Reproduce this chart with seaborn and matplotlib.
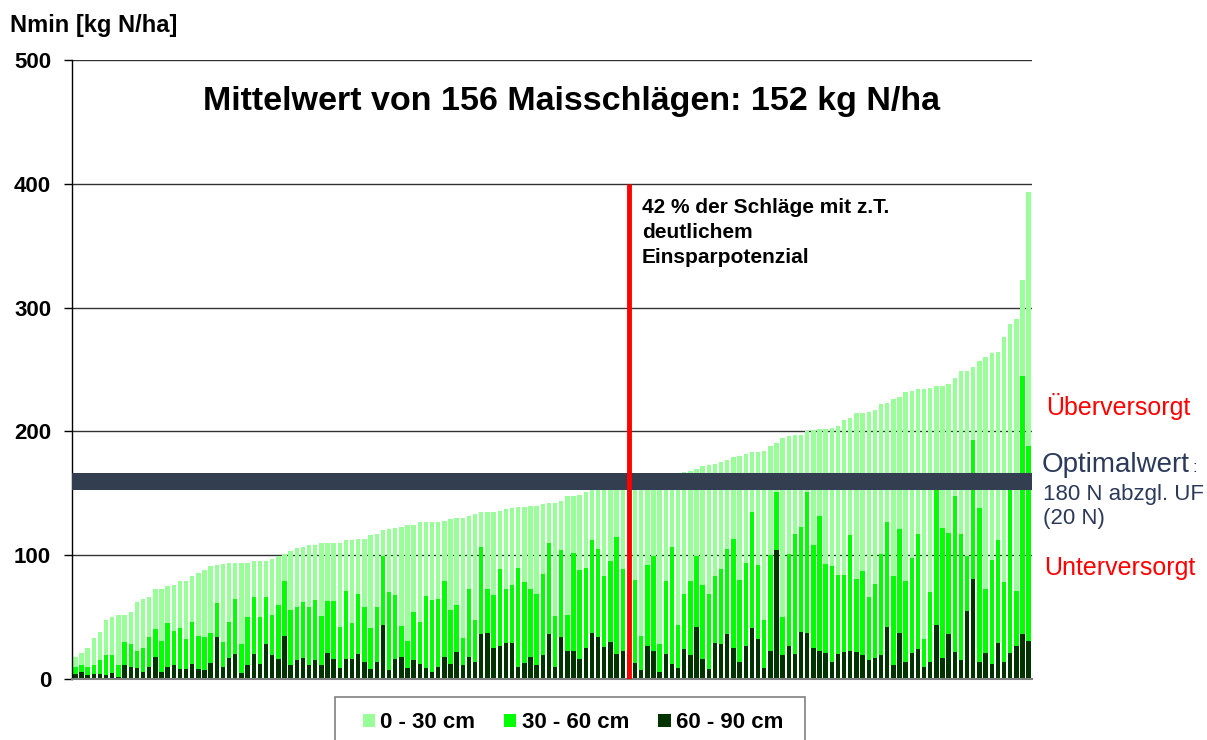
import numpy as np
import matplotlib
matplotlib.use('Agg')
import matplotlib.pyplot as plt
import seaborn as sns
from matplotlib.patches import Patch, Rectangle

# Nmin je Maisschlag (kg N/ha), aufsteigend sortiert
# Hoehe der Saeulen: 0-90 cm gesamt, 30-90 cm, 60-90 cm
nmin_0_90 = [18, 21, 25, 33, 38, 48, 50, 52, 52, 54, 62, 65, 66, 73, 73, 75, 76, 79, 79, 83, 86, 88, 91, 92, 93, 94,
             94, 94, 94, 95, 95, 95, 97, 99, 101, 103, 106, 107, 108, 108, 110, 110, 110, 110, 112, 112, 113, 113, 116, 117, 120, 121,
             122, 123, 124, 124, 127, 127, 127, 127, 128, 129, 130, 130, 132, 133, 135, 135, 135, 136, 137, 138, 139, 139, 140, 140, 141, 142,
             142, 144, 148, 148, 149, 151, 153, 154, 155, 156, 157, 158, 159, 160, 161, 162, 163, 164, 165, 166, 166, 167, 168, 170, 172, 173,
             174, 175, 177, 179, 180, 182, 183, 183, 184, 188, 191, 195, 196, 197, 197, 200, 201, 202, 202, 203, 204, 209, 211, 215, 215, 216,
             217, 222, 223, 226, 228, 232, 233, 234, 234, 235, 237, 237, 238, 243, 249, 249, 252, 257, 260, 263, 264, 276, 287, 291, 322, 393]
nmin_30_90 = [10, 11, 10, 11, 15, 19, 19, 11, 30, 28, 23, 25, 34, 40, 31, 45, 39, 41, 32, 46, 35, 34, 37, 61, 30, 46,
              65, 28, 50, 66, 50, 66, 52, 60, 79, 56, 58, 62, 58, 64, 51, 63, 63, 42, 71, 45, 69, 58, 41, 58, 99, 70,
              68, 43, 31, 54, 46, 67, 64, 65, 79, 56, 60, 33, 73, 48, 107, 73, 68, 89, 73, 76, 90, 78, 73, 69, 85, 110,
              51, 104, 52, 102, 88, 90, 112, 105, 83, 95, 115, 89, 80, 80, 35, 92, 99, 28, 79, 107, 44, 69, 79, 99, 76, 69,
              83, 89, 105, 113, 80, 94, 135, 92, 48, 100, 151, 50, 101, 117, 123, 151, 108, 132, 93, 91, 84, 84, 116, 81, 87, 66,
              77, 101, 127, 83, 121, 79, 98, 117, 32, 70, 155, 122, 118, 148, 117, 99, 193, 138, 73, 96, 112, 78, 155, 71, 245, 188]
nmin_60_90 = [4, 6, 3, 4, 4, 3, 5, 2, 11, 10, 9, 6, 10, 18, 6, 10, 11, 8, 8, 12, 8, 7, 13, 34, 10, 17,
              20, 5, 11, 20, 12, 28, 19, 16, 35, 11, 15, 17, 11, 15, 11, 21, 16, 9, 16, 16, 20, 14, 8, 14, 44, 7,
              16, 18, 9, 15, 12, 9, 6, 10, 18, 12, 22, 11, 18, 14, 36, 37, 25, 27, 29, 29, 10, 13, 18, 11, 19, 36,
              10, 34, 23, 23, 16, 25, 37, 34, 26, 30, 20, 23, 20, 13, 7, 27, 23, 6, 20, 12, 9, 24, 19, 42, 16, 8,
              29, 28, 36, 25, 14, 27, 41, 32, 9, 23, 104, 19, 27, 20, 38, 37, 25, 23, 21, 14, 20, 22, 23, 22, 19, 15,
              17, 19, 42, 11, 37, 14, 21, 24, 10, 14, 44, 17, 36, 22, 15, 55, 81, 14, 21, 12, 29, 14, 21, 27, 36, 31]

schichten = ['0 - 30 cm', '30 - 60 cm', '60 - 90 cm']
farben = ['#99FF99', '#00FF00', '#003300']
y_ticks = [0, 100, 200, 300, 400, 500]
optimal_band = (152.5, 166.5)   # Optimalwert 180 N abzgl. 20 N
trenn_idx = 90                  # Grenze: 42 % der Schlaege rechts davon
trenn_hoehe = 400

sns.set_theme(style='white')
plt.rcParams['font.family'] = ['Liberation Sans', 'DejaVu Sans']
plt.rcParams.update({'text.color': 'black', 'axes.labelcolor': 'black',
                     'xtick.color': 'black', 'ytick.color': 'black'})

W, H = 1207, 740
fig = plt.figure(figsize=(W / 100, H / 100), dpi=100)
ax = fig.add_axes([72 / W, 1 - 679 / H, (1032 - 72) / W, (679 - 60) / H])

idx = np.arange(len(nmin_0_90))
for werte, farbe in zip([nmin_0_90, nmin_30_90, nmin_60_90], farben):
    sns.barplot(x=idx, y=werte, color=farbe, saturation=1, width=0.72,
                errorbar=None, linewidth=0, ax=ax, zorder=2)

# Optimalwert-Balken und Trennlinie
ax.axhspan(*optimal_band, color='#333F50', linewidth=0, zorder=3)
ax.vlines(trenn_idx, 0, trenn_hoehe, color='#FF0000', linewidth=3.5, zorder=4)

ax.set_ylim(0, 500)
ax.set_xlim(-0.55, len(idx) - 0.45)
ax.set_xticks([])
ax.set_xlabel('')
ax.set_ylabel('')
ax.set_yticks(y_ticks)
ax.set_yticklabels([str(t) for t in y_ticks], fontsize=16, fontweight='bold', color='black')
ax.tick_params(axis='y', direction='out', length=6, width=1, color='black', pad=9, left=True)
ax.set_axisbelow(True)
ax.yaxis.grid(True, color='#333333', linewidth=1, zorder=0)
for s in ['top', 'right']:
    ax.spines[s].set_visible(False)
ax.spines['left'].set_color('black')
ax.spines['left'].set_linewidth(1)
ax.spines['bottom'].set_color('#808080')
ax.spines['bottom'].set_linewidth(1.5)

# Texte (bei mehrzeiligem Text bezieht sich 'baseline' auf die letzte Zeile)
fig.text(10 / W, 1 - 32 / H, 'Nmin [kg N/ha]', fontsize=17, fontweight='bold', va='baseline')
fig.text(571.5 / W, 1 - 110 / H, 'Mittelwert von 156 Maisschlägen: 152 kg N/ha',
         fontsize=24.5, fontweight='bold', ha='center', va='baseline')
fig.text(642 / W, 1 - 263 / H, '42 % der Schläge mit z.T.\ndeutlichem\nEinsparpotenzial',
         fontsize=15, fontweight='bold', va='baseline', linespacing=1.4)

navy = '#2B3A5A'
fig.text(1046 / W, 1 - 415 / H, 'Überversorgt', fontsize=18, color='#FF0000', va='baseline')
fig.text(1042 / W, 1 - 472 / H, 'Optimalwert', fontsize=20, color=navy, va='baseline')
fig.text(1192 / W, 1 - 472 / H, ':', fontsize=12, color=navy, va='baseline')
fig.text(1043 / W, 1 - 524 / H, '180 N abzgl. UF\n(20 N)', fontsize=16, color=navy,
         va='baseline', linespacing=1.17)
fig.text(1044 / W, 1 - 575 / H, 'Unterversorgt', fontsize=18, color='#FF0000', va='baseline')

# Legende
handles = [Patch(facecolor=f, edgecolor='none', label=l) for f, l in zip(farben, schichten)]
fig.legend(handles=handles, loc='center', bbox_to_anchor=(573 / W, 1 - 723 / H), ncol=3,
           frameon=False, prop={'weight': 'bold', 'size': 16}, handlelength=0.55,
           handleheight=0.55, handletextpad=0.25, columnspacing=1.3)
fig.patches.append(Rectangle((335 / W, 1 - 760 / H), 470 / W, 63 / H, transform=fig.transFigure,
                             facecolor='white', edgecolor='#808080', linewidth=1.2, zorder=0))

fig.savefig('out.png', dpi=100)
